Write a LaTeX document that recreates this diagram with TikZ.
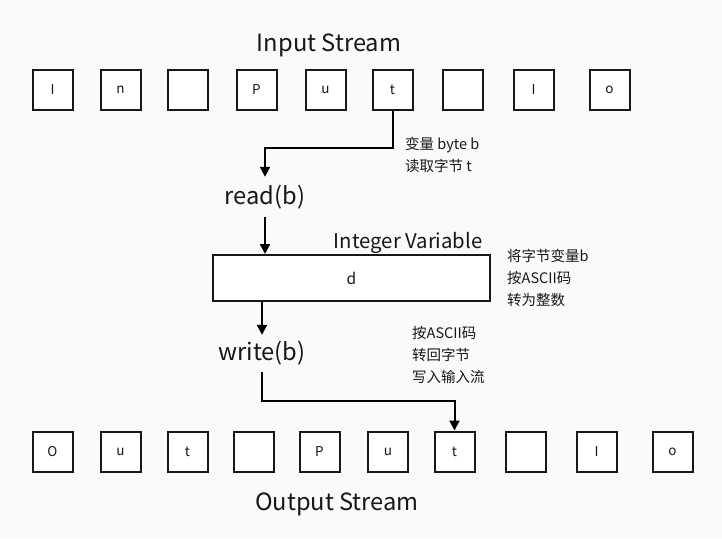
\documentclass[tikz,border=0pt]{standalone}
\usepackage{fontspec}
\setmainfont{Noto Sans CJK SC}
\usetikzlibrary{arrows.meta}
\definecolor{bgcol}{RGB}{250,250,250}
\definecolor{ink}{RGB}{24,24,24}
\tikzset{
  >={Triangle[width=10pt,length=10pt]},
}
\tikzstyle{cell}=[draw=ink,line width=2pt,fill=white,minimum width=40pt,minimum height=40pt,inner sep=0pt,text=ink,font=\fontsize{13.5}{15}\selectfont]
\tikzstyle{flow}=[line width=2pt,->]
\tikzstyle{title}=[text=ink,font=\fontsize{23.7}{26}\selectfont]
\tikzstyle{note}=[align=left,anchor=west,inner sep=0pt,text=ink,font=\fontsize{14.5}{22}\selectfont]

\begin{document}
\begin{tikzpicture}[x=1pt,y=-1pt]
  \fill[bgcol] (0,0) rectangle (722,538);
  \node[title] (instream) at (329,45) {Input Stream};
  \foreach \x/\c [count=\i] in {52.5/I,120.5/n,187.5/{},256.5/P,325.5/u,392.5/t,462.5/{},533.5/I,609.5/o}
    \node[cell] (in\i) at (\x,90) {\c};
  \node[title,minimum height=40pt,inner sep=0pt] (read) at (265,197) {read(b)};
  \node[note] (readnote) at (405,155) {变量 byte b\\读取字节 t};
  \node[cell,minimum width=277pt,minimum height=46pt,font=\fontsize{15.5}{17}\selectfont] (var) at (351.5,278) {d};
  \node[anchor=base east,text=ink,font=\fontsize{20.3}{22}\selectfont] (vartitle) at (486,248) {Integer Variable};
  \node[note] (varnote) at (507,278) {将字节变量b\\按ASCII码\\转为整数};
  \node[title,minimum height=37pt,inner sep=0pt] (write) at (262,353.5) {write(b)};
  \node[note] (writenote) at (412,355) {按ASCII码\\转回字节\\写入输入流};
  \foreach \x/\c [count=\i] in {52.5/O,120.5/u,187.5/t,253.5/{},319.5/P,388/u,454.5/t,525.5/{},596.5/I,672.5/o}
    \node[cell] (out\i) at (\x,451.5) {\c};
  \node[title] (outstream) at (337,504) {Output Stream};
  \draw[flow] (in6.south) -- ++(0,37) -| (read.north);
  \draw[flow] (read.south) -- (read.south |- var.north);
  \draw[flow] (write.north |- var.south) -- (write.north);
  \draw[flow] (write.south) -- ++(0,29) -| (out7.north);
\end{tikzpicture}
\end{document}
